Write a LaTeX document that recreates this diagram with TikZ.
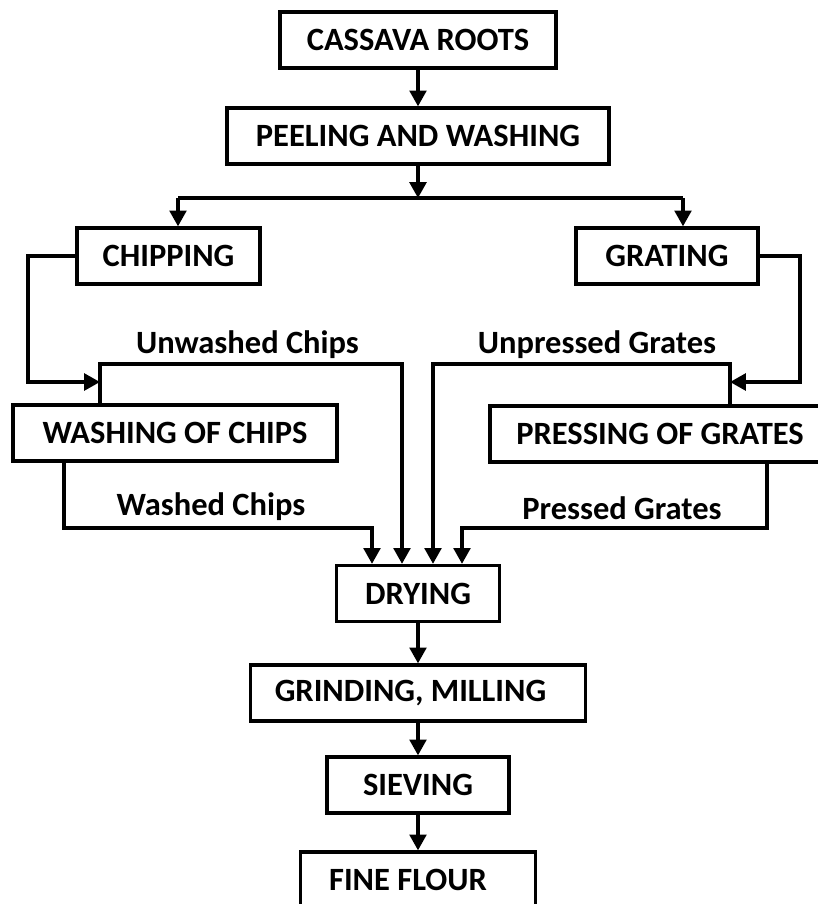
\documentclass[tikz,border=0pt]{standalone}
\usepackage{fontspec}
\setmainfont{Carlito}
\usepackage{tikz}
\usetikzlibrary{arrows.meta,positioning}

\tikzset{
  stepbox/.style={draw, line width=1.9pt, rectangle, inner sep=0pt,
    minimum height=56*0.02cm, font=\fontsize{18.5}{20}\selectfont\bfseries},
  flowlbl/.style={inner sep=0pt, font=\fontsize{18.5}{20}\selectfont\bfseries},
  arr/.style={line width=1.9pt, -{Triangle[length=9pt,width=9.5pt]}},
  ln/.style={line width=1.9pt}
}

\begin{document}
\begin{tikzpicture}[x=0.02cm,y=-0.02cm]
  \clip (0,0) rectangle (818,904);
  \useasboundingbox (0,0) rectangle (818,904);

  % main column
  \node[stepbox, minimum width=276*0.02cm] (roots) at (418,40) {CASSAVA ROOTS};
  \node[stepbox, minimum width=382*0.02cm] (peel) at (418,136) {PEELING AND WASHING};
  \node[stepbox, minimum width=183*0.02cm] (chip) at (168.5,256) {CHIPPING};
  \node[stepbox, minimum width=182*0.02cm] (grate) at (667,256) {GRATING};
  \node[stepbox, minimum width=324*0.02cm] (washc) at (175,433) {WASHING OF CHIPS};
  \node[stepbox, minimum width=340*0.02cm] (pressg) at (660,434) {PRESSING OF GRATES};
  \node[stepbox, minimum width=163*0.02cm] (dry) at (418,593.5) {DRYING};
  \node[stepbox, minimum width=335*0.02cm] (grind) at (418,693) {\hspace*{-0.3cm}GRINDING, MILLING};
  \node[stepbox, minimum width=182*0.02cm] (sieve) at (418,785) {SIEVING};
  \node[stepbox, minimum width=235*0.02cm] (flour) at (418,880) {\hspace*{-0.4cm}FINE FLOUR};

  % labels
  \node[flowlbl] (lblUC) at (247.5,345) {Unwashed Chips};
  \node[flowlbl] (lblUG) at (597,345) {Unpressed Grates};
  \node[flowlbl] (lblWC) at (211,507) {Washed Chips};
  \node[flowlbl] (lblPG) at (622,508) {Pressed Grates};

  % bend points
  \coordinate (split) at (418,198);
  \coordinate (sl) at (178,198);
  \coordinate (sr) at (683,198);
  \coordinate (cl) at (28,382);
  \coordinate (gr) at (800,382);
  \coordinate (wt) at (100,364);
  \coordinate (pt) at (730,364);
  \coordinate (wb) at (64,528);
  \coordinate (pb) at (767,528);
  \coordinate (d1) at (372,0);
  \coordinate (d2) at (402,0);
  \coordinate (d3) at (433,0);
  \coordinate (d4) at (462,0);

  \draw[arr] (roots) -- (peel);
  \draw[arr] (peel) -- (split);
  \draw[ln] (sl) -- (sr);
  \draw[arr] (sl) -- (chip.north -| sl);
  \draw[arr] (sr) -- (grate.north -| sr);

  \draw[arr] (chip.west) -| (cl) -- (cl -| wt);
  \draw[arr] (grate.east) -| (gr) -- (gr -| pt);

  \draw[arr] (washc.north -| wt) -- (wt) -| (dry.north -| d2);
  \draw[arr] (pressg.north -| pt) -- (pt) -| (dry.north -| d3);
  \draw[arr] (washc.south -| wb) -- (wb) -| (dry.north -| d1);
  \draw[arr] (pressg.south -| pb) -- (pb) -| (dry.north -| d4);

  \draw[arr] (dry) -- (grind);
  \draw[arr] (grind) -- (sieve);
  \draw[arr] (sieve) -- (flour);
\end{tikzpicture}
\end{document}
